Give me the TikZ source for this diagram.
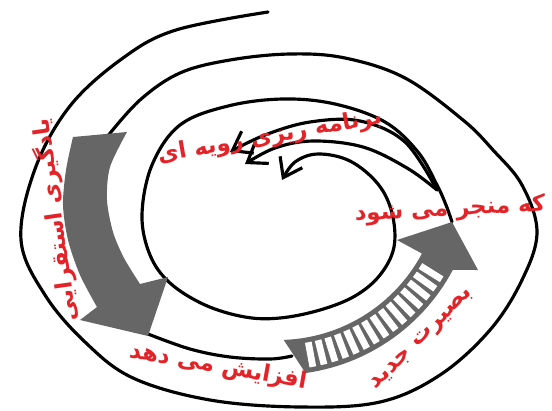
\documentclass[tikz,border=0pt]{standalone}
\usepackage{fontspec}
\usepackage{xcolor}
\usepackage{tikz}
\usetikzlibrary{arrows.meta}
\TeXXeTstate=1
\newfontfamily\arabicfont[Script=Arabic]{DejaVu Sans}
\definecolor{lblred}{RGB}{226,36,40}
\definecolor{arrgray}{RGB}{102,102,102}
\tikzset{
  ring/.style={line width=1.8pt, line cap=round},
  curl/.style={line width=1.8pt, line cap=round, -{Straight Barb[length=3.5mm,width=5mm]}},
  band/.style={fill=arrgray},
  rung/.style={draw=white, line width=1.35mm},
  lbl/.style={font=\fontsize{13}{15}\selectfont\arabicfont\bfseries, text=lblred, inner sep=1pt},
}
\begin{document}
\begin{tikzpicture}[x=0.02cm,y=-0.02cm]
\useasboundingbox (0,0) rectangle (552,410);
\draw[ring] plot[smooth, tension=0.6] coordinates {(268,12) (176,30) (123,58) (70,106) (35,169) (21,240) (45,295) (85,342) (133,378) (210,400) (300,407) (380,402) (440,375) (490,330) (522,280) (537,232) (522,185) (493,150) (463,120) (405,78) (345,58) (290,54) (230,60) (180,73) (140,100) (107,137)};
\draw[ring] plot[smooth, tension=0.6] coordinates {(148,334) (190,349) (230,357) (270,359) (292,356)};
\draw[curl] plot[smooth, tension=0.6] coordinates {(452,222) (446,205) (437,185) (418,152) (385,122) (335,104) (283,99) (228,106) (180,125) (152,165) (142,215) (150,255) (170,283) (205,305) (245,317) (280,318) (320,310) (355,296) (380,275) (394,247) (392,213) (378,184) (350,161) (318,154) (295,162) (282,180)};
\draw[curl] plot[smooth, tension=0.6] coordinates {(437,190) (405,142) (360,121) (310,122) (265,135) (230,152)};
\draw[curl] plot[smooth, tension=0.6] coordinates {(437,190) (407,168) (363,147) (313,141) (275,148) (245,164)};
\fill[band] plot[smooth] coordinates {(73,137) (66,170) (63,205) (68,240) (80,275) (97,307)} -- (80,320) -- (148,336) -- (168,277) -- plot[smooth] coordinates {(140,284) (124,258) (113,232) (107,200) (110,167) (127,132)} -- cycle;
\fill[band] plot[domain=88:28, samples=30] ({278+163*cos(\x)},{177+163*sin(\x)}) -- (397,240) -- (452,222) -- (478,270) -- plot[domain=28:82, samples=30] ({278+198*cos(\x)},{177+198*sin(\x)}) -- cycle;
\foreach \i in {0,...,14}{
  \pgfmathsetmacro\a{32+3.4*\i}
  \draw[rung] ({278+168*cos(\a)},{177+168*sin(\a)}) -- ({278+193*cos(\a)},{177+193*sin(\a)});
}
\node[lbl, rotate=98] (induct) at (55,220) {\beginR یادگیری استقرایی\endR};
\node[lbl, rotate=10] (plan) at (270,137) {\beginR برنامه ریزی رویه ای\endR};
\node[lbl, rotate=3] (leads) at (450,210) {\beginR که منجر می شود\endR};
\node[lbl, rotate=-10] (raise) at (218,367) {\beginR افزایش می دهد\endR};
\node[lbl, rotate=45] (insight) at (423,340) {\beginR بصیرت جدید\endR};
\end{tikzpicture}
\end{document}
